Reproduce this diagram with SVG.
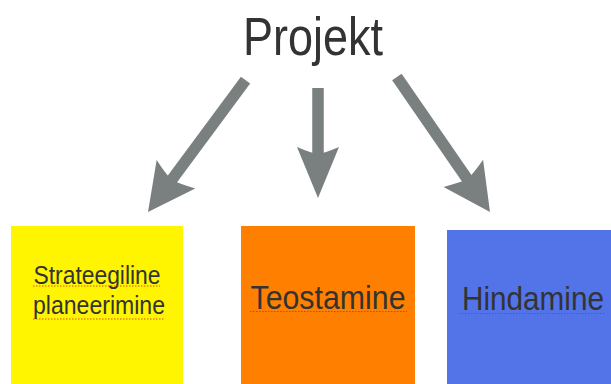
<svg xmlns="http://www.w3.org/2000/svg" xmlns:xlink="http://www.w3.org/1999/xlink" width="611" height="384" viewBox="0 0 611 384">
  <style>
    .lbl { font-family: "Liberation Sans", Arial, sans-serif; fill: #333333; }
    .shaft { stroke: #7a7f80; stroke-width: 11.5; stroke-linecap: butt; fill: none; }
    .head { fill: #7a7f80; }
    .spell { stroke: #d42a2a; stroke-width: 1.2; stroke-dasharray: 1.5 1.5; opacity: 0.8; }
  </style>
  <defs>
    <path id="head" class="head" d="M0 0 L-24 -47 Q-8 -41 0 -40 Q8 -41 24 -47 Z"/>
  </defs>
  <rect width="611" height="384" fill="#ffffff"/>

  <g id="projekt">
    <text class="lbl" x="313" y="55" font-size="54" text-anchor="middle" textLength="140" lengthAdjust="spacingAndGlyphs">Projekt</text>
  </g>

  <g id="connectors">
    <g transform="translate(148,212) rotate(36.5)">
      <line class="shaft" x1="0" y1="-164" x2="0" y2="-38"/>
      <use xlink:href="#head" href="#head"/>
    </g>
    <g transform="translate(318,198)">
      <line class="shaft" x1="0" y1="-110" x2="0" y2="-40"/>
      <path class="head" d="M0 0 L-21 -51 Q-7 -45 0 -44 Q7 -45 21 -51 Z"/>
    </g>
    <g transform="translate(490,212) rotate(-34.6)">
      <line class="shaft" x1="0" y1="-164" x2="0" y2="-38"/>
      <use xlink:href="#head" href="#head"/>
    </g>
  </g>

  <g id="strateegiline">
    <rect x="11" y="226" width="172" height="158" fill="#fff500"/>
    <text class="lbl" x="97" y="284" font-size="26" text-anchor="middle" textLength="127" lengthAdjust="spacingAndGlyphs">Strateegiline</text>
    <text class="lbl" x="99" y="314" font-size="26" text-anchor="middle" textLength="132" lengthAdjust="spacingAndGlyphs">planeerimine</text>
    <line class="spell" x1="33" y1="286" x2="160" y2="286"/>
    <line class="spell" x1="33" y1="319" x2="165" y2="319"/>
  </g>

  <g id="teostamine">
    <rect x="241" y="226" width="174" height="158" fill="#ff8000"/>
    <text class="lbl" x="328" y="309" font-size="33" text-anchor="middle" textLength="155" lengthAdjust="spacingAndGlyphs">Teostamine</text>
    <line class="spell" x1="250" y1="311.5" x2="407" y2="311.5"/>
  </g>

  <g id="hindamine">
    <rect x="447" y="230" width="164" height="154" fill="#5274e8"/>
    <text class="lbl" x="533" y="310" font-size="34" text-anchor="middle" textLength="142" lengthAdjust="spacingAndGlyphs">Hindamine</text>
    <line class="spell" x1="459" y1="313.5" x2="606" y2="313.5"/>
  </g>
</svg>
